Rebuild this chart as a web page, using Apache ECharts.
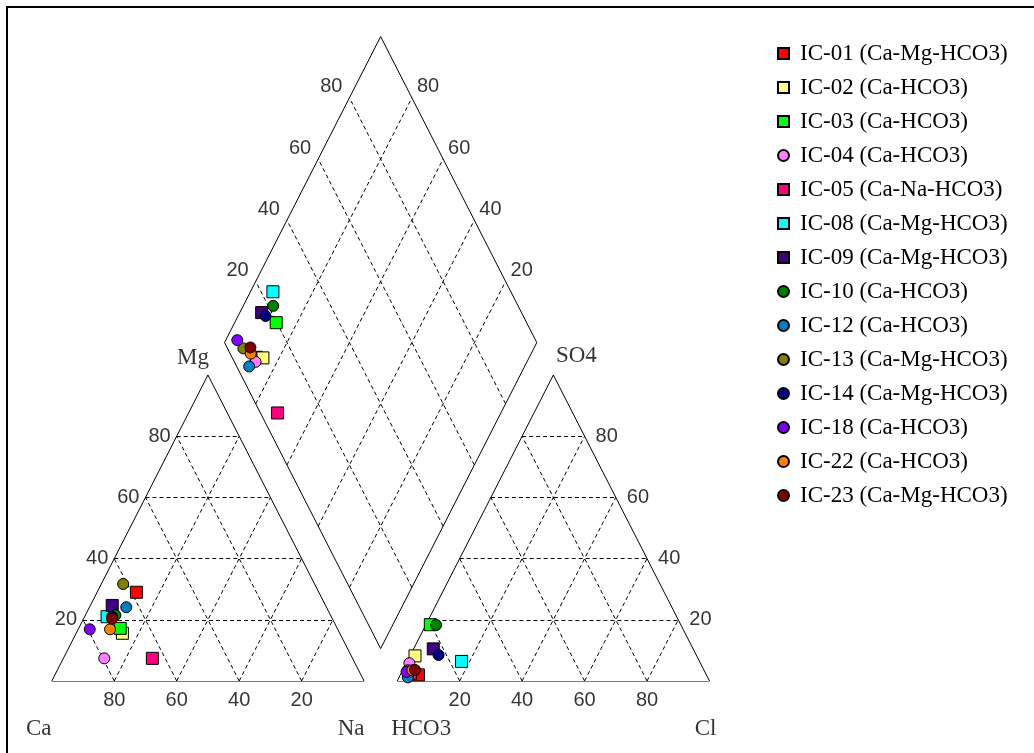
<!DOCTYPE html>
<html>
<head>
<meta charset="utf-8">
<script src="https://cdn.jsdelivr.net/npm/echarts@6/dist/echarts.min.js"></script>
<style>
  html, body { margin: 0; padding: 0; background: #ffffff; }
  #chart { width: 1034px; height: 753px; }
</style>
</head>
<body>
<div id="chart"></div>
<script>
// Samples and their water types
const sampleIds  = ['IC-01','IC-02','IC-03','IC-04','IC-05','IC-08','IC-09','IC-10','IC-12','IC-13','IC-14','IC-18','IC-22','IC-23'];
const waterTypes = ['Ca-Mg-HCO3','Ca-HCO3','Ca-HCO3','Ca-HCO3','Ca-Na-HCO3','Ca-Mg-HCO3','Ca-Mg-HCO3','Ca-HCO3','Ca-HCO3','Ca-Mg-HCO3','Ca-Mg-HCO3','Ca-HCO3','Ca-HCO3','Ca-Mg-HCO3'];

// Cations, % meq/L
const caPct = [58.4, 69.6, 69.5, 79.5, 64.1, 71.8, 68.3, 68.9, 64.1, 61.3, 70.2, 79.4, 72.9, 70.5];
const mgPct = [29.0, 15.6, 17.2,  7.4,  7.4, 21.0, 24.7, 21.5, 24.1, 31.7, 21.0, 16.9, 16.9, 20.4];
const naPct = [12.6, 14.8, 13.3, 13.1, 28.5,  7.2,  7.0,  9.6, 11.8,  7.0,  8.8,  3.7, 10.2,  9.1];

// Anions, % meq/L
const hco3Pct = [92.2, 90.2, 80.2, 93.2, 94.5, 76.2, 83.2, 78.4, 96.0, 94.9, 82.5, 95.5, 93.4, 92.5];
const so4Pct  = [ 2.0,  8.2, 18.4,  5.8,  2.5,  6.4, 10.5, 18.3,  1.2,  3.5,  8.5,  3.0,  3.5,  3.6];
const clPct   = [ 5.8,  1.6,  1.4,  1.0,  3.0, 17.4,  6.3,  3.3,  2.8,  1.6,  9.0,  1.5,  3.1,  3.9];

// Percentage gridlines / tick labels
const tickValues = [20, 40, 60, 80];

// Marker styling per sample
const markerShapes = ['rect','rect','rect','circle','rect','rect','rect','circle','circle','circle','circle','circle','circle','circle'];
const markerColors = ['#ff0000','#ffff80','#00ff00','#ff80ff','#ff0080','#00ffff','#400080','#008000','#0080c0','#808000','#000080','#8000ff','#ff8000','#800000'];

// ---- Diagram geometry (triangle base = 100 units, triangle height = 100 units) ----
const GAP = 10.6;                // spacing between the two triangles
const XMAX = 200 + GAP;
const YMAX = 200 + GAP;
const RX0 = 100 + GAP;           // left corner of the anion triangle
const DB = [100 + GAP / 2, GAP]; // bottom vertex of the diamond

function cationXY(na, mg) { return [na + mg / 2, mg]; }
function anionXY(cl, so4) { return [RX0 + cl + so4 / 2, so4]; }
function diamondXY(a, b) {   // a = (Ca+Mg)/100, b = (SO4+Cl)/100
  return [DB[0] - 50 * a + 50 * b, DB[1] + 100 * a + 100 * b];
}

// Outline segments
const outline = [];
function tri(x0) {
  outline.push([[x0, 0], [x0 + 100, 0]], [[x0 + 100, 0], [x0 + 50, 100]], [[x0 + 50, 100], [x0, 0]]);
}
tri(0); tri(RX0);
const dB = diamondXY(0, 0), dL = diamondXY(1, 0), dT = diamondXY(1, 1), dR = diamondXY(0, 1);
outline.push([dB, dL], [dL, dT], [dT, dR], [dR, dB]);

// Dashed gridlines
const dashed = [];
function triGrid(x0) {
  tickValues.forEach(t => {
    dashed.push([[x0 + t / 2, t], [x0 + 100 - t / 2, t]]);
    dashed.push([[x0 + t, 0], [x0 + t + (100 - t) / 2, 100 - t]]);
    dashed.push([[x0 + 100 - t, 0], [x0 + (100 - t) / 2, 100 - t]]);
  });
}
triGrid(0); triGrid(RX0);
tickValues.forEach(t => {
  const f = t / 100;
  dashed.push([diamondXY(f, 0), diamondXY(f, 1)]);
  dashed.push([diamondXY(0, f), diamondXY(1, f)]);
});

// Text labels
const numFont = { fontFamily: 'Liberation Sans', fontSize: 20, color: '#000' };
const txtFont = { fontFamily: 'Liberation Serif', fontSize: 23, color: '#000' };
const labels = [];
function lab(pt, text, dx, dy, align, font) {
  labels.push({
    value: pt,
    label: Object.assign({ show: true, formatter: String(text), position: 'inside', align: align, verticalAlign: 'middle', offset: [dx, dy] }, font)
  });
}
tickValues.forEach(t => {
  lab([100 - t, 0], t, 0, 19, 'center', numFont);               // Ca along base
  lab([t / 2, t], t, -6, 0, 'right', numFont);                  // Mg along left edge
  lab([RX0 + t, 0], t, 0, 19, 'center', numFont);               // Cl along base
  lab([RX0 + 100 - t / 2, t], t, 11, 0, 'left', numFont);       // SO4 along right edge
  lab(diamondXY(1, t / 100), t, -7, -11, 'right', numFont);     // SO4+Cl
  lab(diamondXY(t / 100, 1), t, 5, -11, 'left', numFont);       // Ca+Mg
});
lab([0, 0], 'Ca', -13, 48, 'center', txtFont);
lab([100, 0], 'Na', -13, 48, 'center', txtFont);
lab([50, 100], 'Mg', -15, -17, 'center', txtFont);
lab([RX0, 0], 'HCO3', 24, 48, 'center', txtFont);
lab([RX0 + 100, 0], 'Cl', -4, 48, 'center', txtFont);
lab([RX0 + 50, 100], 'SO4', 23, -19, 'center', txtFont);

// Sample series: cation point, anion point, diamond projection
const sampleSeries = sampleIds.map((id, i) => ({
  name: id + ' (' + waterTypes[i] + ')',
  type: 'scatter',
  symbol: markerShapes[i],
  symbolSize: markerShapes[i] === 'rect' ? 12 : 11,
  itemStyle: { color: markerColors[i], borderColor: '#000', borderWidth: 1, opacity: 1 },
  z: 10 + i,
  silent: true,
  data: [
    cationXY(naPct[i], mgPct[i]),
    anionXY(clPct[i], so4Pct[i]),
    diamondXY((caPct[i] + mgPct[i]) / 100, (so4Pct[i] + clPct[i]) / 100)
  ]
}));

const chart = echarts.init(document.getElementById('chart'), null, { renderer: 'canvas' });
chart.setOption({
  backgroundColor: '#ffffff',
  animation: false,
  grid: { left: 51.8, right: 324.5, top: 36.6, bottom: 72, containLabel: false },
  xAxis: { type: 'value', min: 0, max: XMAX, show: false },
  yAxis: { type: 'value', min: 0, max: YMAX, show: false },
  legend: {
    orient: 'vertical',
    left: 772,
    top: 37,
    itemWidth: 11,
    itemHeight: 11,
    itemGap: 11,
    textStyle: { fontFamily: 'Liberation Serif', fontSize: 23, color: '#000', lineHeight: 23, padding: [0, 0, 0, 6] },
    data: sampleIds.map((id, i) => ({ name: id + ' (' + waterTypes[i] + ')', icon: markerShapes[i] === 'rect' ? 'rect' : 'circle' }))
  },
  graphic: [{
    type: 'rect', silent: true,
    shape: { x: 7, y: 7, width: 1200, height: 1200 },
    style: { fill: 'none', stroke: '#000', lineWidth: 2 }
  }],
  series: [
    {
      type: 'lines', coordinateSystem: 'cartesian2d', silent: true, z: 2,
      lineStyle: { color: '#000', width: 1, type: [4, 3], opacity: 1 },
      data: dashed.map(s => ({ coords: s }))
    },
    {
      type: 'lines', coordinateSystem: 'cartesian2d', silent: true, z: 3,
      lineStyle: { color: '#000', width: 1, type: 'solid', opacity: 1 },
      data: outline.map(s => ({ coords: s }))
    },
    {
      type: 'scatter', silent: true, z: 4, symbolSize: 1,
      itemStyle: { color: 'rgba(0,0,0,0)' },
      data: labels
    }
  ].concat(sampleSeries)
});
</script>
</body>
</html>
